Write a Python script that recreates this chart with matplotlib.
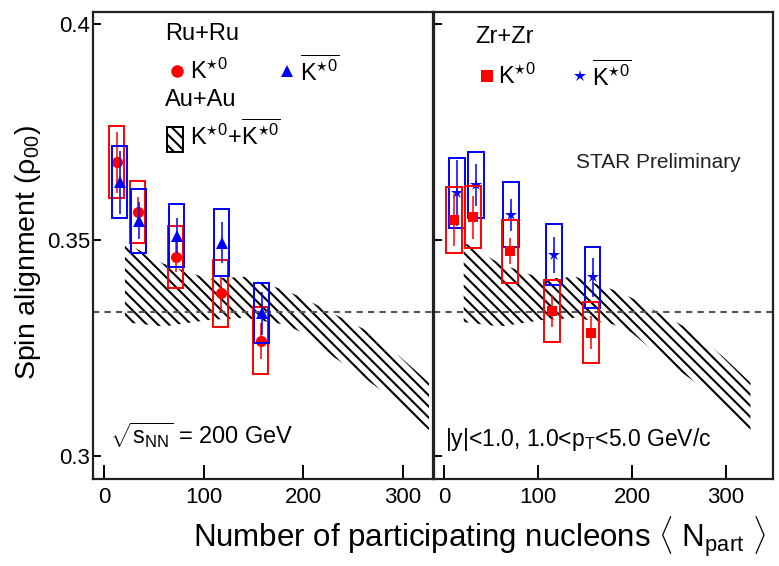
import matplotlib
matplotlib.use("Agg")
import matplotlib.pyplot as plt
from matplotlib.patches import Rectangle
import numpy as np

plt.rcParams['font.family'] = ['Liberation Sans', 'DejaVu Sans']
plt.rcParams['mathtext.fontset'] = 'custom'
plt.rcParams['mathtext.rm'] = 'Liberation Sans'
plt.rcParams['mathtext.it'] = 'Liberation Sans:italic'
plt.rcParams['mathtext.bf'] = 'Liberation Sans:bold'
plt.rcParams['hatch.linewidth'] = 1.5

# ---------------- data ----------------
# Ru+Ru, K*0 (red circles)
ru_k_npart = [13, 34, 72, 117, 157]
ru_k_rho = [0.3680, 0.3565, 0.3461, 0.3377, 0.3267]
ru_k_stat = [0.0070, 0.0035, 0.0035, 0.0040, 0.0042]
ru_k_sys = [0.0083, 0.0072, 0.0071, 0.0077, 0.0078]
# Ru+Ru, anti-K*0 (blue triangles)
ru_kb_npart = [16, 35, 73, 118, 158]
ru_kb_rho = [0.3634, 0.3545, 0.3510, 0.3494, 0.3331]
ru_kb_stat = [0.0073, 0.0043, 0.0040, 0.0047, 0.0050]
ru_kb_sys = [0.0084, 0.0074, 0.0073, 0.0078, 0.0069]
# Zr+Zr, K*0 (red squares)
zr_k_npart = [11, 31, 70, 115, 156]
zr_k_rho = [0.3546, 0.3553, 0.3474, 0.3336, 0.3286]
zr_k_stat = [0.0060, 0.0050, 0.0030, 0.0036, 0.0038]
zr_k_sys = [0.0077, 0.0072, 0.0073, 0.0072, 0.0071]
# Zr+Zr, anti-K*0 (blue stars)
zr_kb_npart = [14, 34, 71, 117, 158]
zr_kb_rho = [0.3609, 0.3628, 0.3559, 0.3466, 0.3414]
zr_kb_stat = [0.0076, 0.0048, 0.0037, 0.0042, 0.0045]
zr_kb_sys = [0.0081, 0.0076, 0.0075, 0.0071, 0.0071]
# Au+Au K*0 + anti-K*0 band
au_npart = [21, 60, 105, 140, 180, 200, 230, 264, 297, 326]
au_top = [0.3495, 0.3445, 0.3410, 0.3415, 0.3385, 0.3366, 0.3330, 0.3290, 0.3230, 0.3170]
au_bot = [0.3310, 0.3300, 0.3315, 0.3320, 0.3305, 0.3285, 0.3230, 0.3176, 0.3120, 0.3060]

x_ticks = [0, 100, 200, 300]
y_ticks = [0.3, 0.35, 0.4]
y_tick_labels = ['0.3', '0.35', '0.4']

RED = '#ff0000'
BLUE = '#0000ff'

fig = plt.figure(figsize=(7.79, 5.66), dpi=100)
axL = fig.add_axes([93/779, 1-479/566, 340/779, 467/566])
axR = fig.add_axes([434/779, 1-479/566, 339/779, 467/566])

ylim = (0.2947, 0.4028)
axL.set_xlim(-11, 330)
axR.set_xlim(-10.6, 350)


def draw_series(ax, x, y, stat, sys, color, marker, ms, halfw, z):
    for xi, yi, si, syi in zip(x, y, stat, sys):
        ax.add_patch(Rectangle((xi - halfw, yi - syi), 2*halfw, 2*syi,
                               fill=False, edgecolor=color, linewidth=1.4, zorder=z))
    ax.errorbar(x, y, yerr=stat, fmt='none', ecolor=color, elinewidth=1.3,
                capsize=0, zorder=z+0.1, alpha=0.85)
    ax.plot(x, y, linestyle='none', marker=marker, color=color, markersize=ms,
            markeredgewidth=0, zorder=z+0.2)


for ax in (axL, axR):
    ax.set_ylim(*ylim)
    ax.fill_between(au_npart, au_bot, au_top, facecolor='none', edgecolor='black',
                    hatch='\\\\\\', linewidth=0, zorder=1)
    ax.axhline(1/3, color='#555555', linestyle=(0, (3, 2.5)), linewidth=1.5, zorder=1.5)
    ax.set_xticks(x_ticks)
    ax.set_yticks(y_ticks)
    ax.tick_params(axis='x', direction='in', length=10, width=1.4, labelsize=16, pad=6,
                   colors='black')
    ax.tick_params(axis='y', direction='in', length=6, width=1.4, labelsize=16, pad=2)
    for s in ax.spines.values():
        s.set_linewidth(1.6)
        s.set_color('#222222')

axL.set_yticklabels(y_tick_labels)
axR.set_yticklabels([])

draw_series(axL, ru_k_npart, ru_k_rho, ru_k_stat, ru_k_sys, RED, 'o', 8, 7.5, 3)
draw_series(axL, ru_kb_npart, ru_kb_rho, ru_kb_stat, ru_kb_sys, BLUE, '^', 8, 7.5, 4)
draw_series(axR, zr_kb_npart, zr_kb_rho, zr_kb_stat, zr_kb_sys, BLUE, '*', 9, 8.5, 3)
draw_series(axR, zr_k_npart, zr_k_rho, zr_k_stat, zr_k_sys, RED, 's', 7, 8.5, 4)

K = r'$\mathrm{K^{\star 0}}$'
KB = r'$\mathrm{\overline{K^{\star 0}}}$'

# left-panel legend
axL.text(0.212, 0.953, 'Ru+Ru', transform=axL.transAxes, fontsize=17, va='center', ha='left')
axL.plot([0.247], [0.874], transform=axL.transAxes, marker='o', color=RED, markersize=9,
         markeredgewidth=0, linestyle='none')
axL.text(0.285, 0.874, K, transform=axL.transAxes, fontsize=17, va='center', ha='left')
axL.plot([0.571], [0.874], transform=axL.transAxes, marker='^', color=BLUE, markersize=8,
         markeredgewidth=0, linestyle='none')
axL.text(0.609, 0.874, KB, transform=axL.transAxes, fontsize=17, va='center', ha='left')
axL.text(0.212, 0.812, 'Au+Au', transform=axL.transAxes, fontsize=17, va='center', ha='left')
axL.add_patch(Rectangle((0.2176, 0.700), 0.047, 0.0535, transform=axL.transAxes,
                        facecolor='none', edgecolor='black', hatch='\\\\\\', linewidth=1.4))
axL.text(0.285, 0.737, r'$\mathrm{K^{\star 0}}$+$\mathrm{\overline{K^{\star 0}}}$',
         transform=axL.transAxes, fontsize=17, va='center', ha='left')
axL.text(0.05, 0.094, r'$\sqrt{\mathrm{s_{NN}}}$ = 200 GeV', transform=axL.transAxes,
         fontsize=17, va='center', ha='left')

# right-panel legend
axR.text(0.121, 0.946, 'Zr+Zr', transform=axR.transAxes, fontsize=17, va='center', ha='left')
axR.plot([0.156], [0.863], transform=axR.transAxes, marker='s', color=RED, markersize=8,
         markeredgewidth=0, linestyle='none')
axR.text(0.189, 0.863, K, transform=axR.transAxes, fontsize=17, va='center', ha='left')
axR.plot([0.431], [0.863], transform=axR.transAxes, marker='*', color=BLUE, markersize=9,
         markeredgewidth=0, linestyle='none')
axR.text(0.466, 0.863, KB, transform=axR.transAxes, fontsize=17, va='center', ha='left')
axR.text(0.419, 0.677, 'STAR Preliminary', transform=axR.transAxes, fontsize=15,
         va='center', ha='left', color='#222222')
axR.text(0.032, 0.084, r'|y|<1.0, 1.0<$\mathrm{p_T}$<5.0 GeV/c', transform=axR.transAxes,
         fontsize=16.5, va='center', ha='left')

fig.text(193/779, 1-547/566, r'Number of participating nucleons $\langle$ N$_{\mathrm{part}}$ $\rangle$',
         fontsize=22.5, ha='left', va='baseline')
fig.text(28/779, 1-252/566, r'Spin alignment (ρ$_{00}$)', fontsize=20.5, rotation=90,
         ha='center', va='center')

fig.savefig('out.png', dpi=100)
